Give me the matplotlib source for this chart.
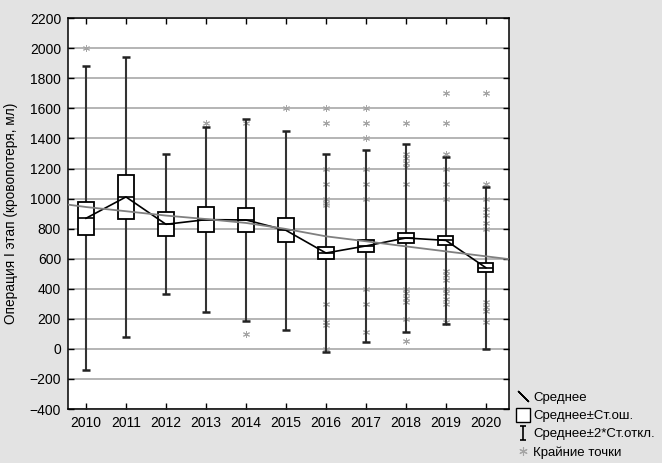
import numpy as np
import matplotlib.pyplot as plt
from matplotlib.lines import Line2D
from matplotlib.path import Path

plt.rcParams["font.family"] = ["Liberation Sans", "DejaVu Sans"]

# values
years = ["2010", "2011", "2012", "2013", "2014", "2015",
         "2016", "2017", "2018", "2019", "2020"]
means = [869, 1011, 829, 860, 858, 789, 638, 685, 738, 722, 540]
se = [108, 147, 80, 81, 78, 80, 39, 38, 36, 28, 31]
sd = [506, 467, 233, 308, 337, 332, 330, 319, 313, 279, 270]

outliers = [
    [2000],
    [],
    [],
    [1500],
    [1500, 100],
    [1600],
    [1600, 1500, 1200, 1100, 1000, 970, 955, 300, 180, 160, 0],
    [1600, 1500, 1400, 1200, 1100, 1000, 400, 300, 110],
    [1500, 1300, 1270, 1240, 1210, 1100, 400, 370, 340, 310, 200, 50],
    [1700, 1500, 1300, 1200, 1100, 1000, 520, 490, 460, 400, 370, 330, 300, 180],
    [1700, 1100, 1000, 930, 890, 840, 800, 310, 280, 250, 180],
]

# smoothed trend (gray curve), read at the left edge, each year, right edge
trend_x = [-0.45, 0, 1, 2, 3, 4, 5, 6, 7, 8, 9, 10, 10.55]
trend_y = [960, 944, 916, 887, 864, 838, 798, 749, 716, 682, 649, 616, 598]

fig = plt.figure(figsize=(6.62, 4.63), dpi=100, facecolor="#e3e3e3")
ax = fig.add_axes([0.1027, 0.1166, 0.666, 0.844])
ax.set_facecolor("white")

x = np.arange(len(years))
box_w = 0.38
cap_w = 0.2

for i in x:
    lo = means[i] - 2 * sd[i]
    hi = means[i] + 2 * sd[i]
    ax.vlines(i, lo, hi, color="#333333", lw=1.5, zorder=3)
    ax.hlines([lo, hi], i - cap_w / 2, i + cap_w / 2, color="#222222", lw=1.8, zorder=3)
    ax.add_patch(plt.Rectangle((i - box_w / 2, means[i] - se[i]), box_w, 2 * se[i],
                               facecolor="white", edgecolor="black", lw=1.3, zorder=4))
    ax.hlines(means[i], i - box_w / 2, i + box_w / 2, color="black", lw=1.2, zorder=5)
    if outliers[i]:
        ax.plot([i] * len(outliers[i]), outliers[i], ls="none", marker=(6, 2, 0),
                ms=5, mew=0.7, color="#a5a5a5", zorder=2.5)

ax.plot(x, means, color="black", lw=1.2, zorder=6)
ax.plot(trend_x, trend_y, color="#808080", lw=1.3, zorder=6)

ax.set_xlim(-0.45, 10.575)
ax.set_ylim(-400, 2200)
ax.set_yticks(range(-400, 2201, 200))
ax.set_xticks(x)
ax.set_xticklabels(years)
ax.yaxis.grid(True, color="#a8a8a8", lw=1.2)
ax.set_axisbelow(True)
ax.tick_params(direction="in", top=True, right=True, length=4, width=1,
               labelsize=10, colors="black", pad=5)
for s in ax.spines.values():
    s.set_linewidth(1.1)
ax.set_ylabel("Операция I этап (кровопотеря, мл)", fontsize=9.8, labelpad=8)

# legend
ibeam = Path([(-0.5, 1), (0.5, 1), (0, 1), (0, -1), (-0.5, -1), (0.5, -1)],
             [Path.MOVETO, Path.LINETO, Path.MOVETO, Path.LINETO, Path.MOVETO, Path.LINETO])
handles = [
    Line2D([], [], ls="none", marker=(2, 2, 45), ms=11, mew=1, color="black"),
    Line2D([], [], ls="none", marker="s", ms=10, mfc="white", mec="black", mew=1),
    Line2D([], [], ls="none", marker=ibeam, ms=10, mew=1.2, color="black"),
    Line2D([], [], ls="none", marker=(6, 2, 0), ms=6, mew=0.8, color="#a5a5a5"),
]
labels = ["Среднее", "Среднее±Ст.ош.", "Среднее±2*Ст.откл.", "Крайние точки"]
fig.legend(handles, labels, loc="lower left", bbox_to_anchor=(0.768, -0.008),
           frameon=False, fontsize=9.5, handlelength=1.0, handletextpad=0.3,
           labelspacing=0.45, borderaxespad=0.2)

fig.savefig("out.png", dpi=100, facecolor=fig.get_facecolor())
